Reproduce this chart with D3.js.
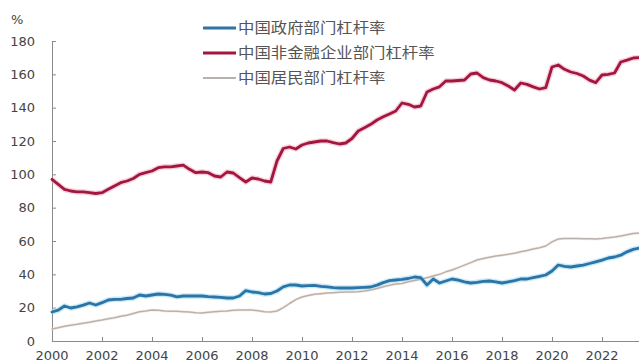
<!DOCTYPE html>
<html>
<head>
<meta charset="utf-8">
<script src="https://cdn.jsdelivr.net/npm/d3@7/dist/d3.min.js"></script>
<style>
  html, body { margin: 0; padding: 0; background: #fff; }
  svg { display: block; font-family: "DejaVu Sans", "Liberation Sans", Arial, sans-serif; }
</style>
</head>
<body>
<svg id="chart" width="639" height="361"></svg>
<script>
// Quarterly leverage ratios (%), 2000Q1 onwards
const startYear = 2000;
const seriesNames = ["中国政府部门杠杆率", "中国非金融企业部门杠杆率", "中国居民部门杠杆率"];

const government = [
  17.4, 18.5, 21.0, 19.8,  20.5, 21.5, 22.8, 21.6,  23.0, 24.6, 25.0, 25.0,
  25.5, 25.8, 27.6, 27.0,  27.6, 28.2, 28.0, 27.5,  26.5, 27.0, 27.0, 27.0,
  27.0, 26.6, 26.4, 26.2,  25.8, 25.8, 27.0, 30.2,  29.4, 29.0, 28.2, 28.5,
  30.0, 32.5, 33.6, 33.6,  33.0, 33.2, 33.4, 32.8,  32.5, 32.0, 31.8, 31.8,
  31.8, 32.0, 32.2, 32.4,  33.5, 35.0, 36.2, 36.6,  37.0, 37.5, 38.4, 38.0,
  33.6, 37.2, 34.8, 36.0,  37.2, 36.5, 35.5, 34.8,  35.2, 35.8, 36.0, 35.5,
  34.8, 35.5, 36.2, 37.2,  37.2, 38.0, 38.8, 39.6,  42.0, 45.6, 44.8, 44.4,
  45.0, 45.5, 46.5, 47.5,  48.5, 49.8, 50.4, 51.5,  53.5, 55.0, 55.8
];

const nonFinancial = [
  97.0, 94.0, 91.0, 90.0,  89.5, 89.5, 89.0, 88.5,  89.0, 91.0, 93.0, 95.0,
  96.0, 97.5, 100.0, 101.0, 102.0, 104.0, 104.5, 104.5, 105.0, 105.5, 103.0, 101.0,
  101.4, 101.0, 99.0, 98.4, 101.4, 100.8, 98.0, 95.4, 97.8, 97.2, 96.0, 95.4,
  108.0, 115.5, 116.4, 115.2, 117.6, 118.8, 119.4, 120.0, 120.0, 119.0, 118.2, 118.8,
  121.5, 126.0, 128.0, 130.0, 132.6, 134.5, 136.2, 138.0, 142.8, 142.0, 140.4, 141.0,
  149.4, 151.2, 152.5, 156.0, 156.0, 156.3, 156.6, 160.2, 160.8, 158.0, 156.6, 156.0,
  155.0, 153.0, 150.6, 154.8, 154.0, 152.5, 151.2, 152.0, 164.4, 165.6, 163.0, 161.4,
  160.5, 159.0, 156.5, 155.0, 159.6, 160.0, 160.8, 167.4, 168.5, 169.8, 170.0
];

const household = [
  7.2, 8.0, 8.8, 9.5,     10.0, 10.7, 11.3, 12.0,  12.6, 13.3, 14.0, 14.8,
  15.5, 16.5, 17.5, 18.0,  18.6, 18.4, 18.0, 17.8,  17.8, 17.6, 17.4, 17.0,
  16.8, 17.2, 17.5, 17.8,  18.0, 18.4, 18.6, 18.6,  18.6, 18.2, 17.6, 17.4,
  18.0, 20.0, 22.5, 24.8,  26.4, 27.3, 28.0, 28.4,  28.8, 29.0, 29.2, 29.4,
  29.4, 29.6, 30.0, 30.6,  31.5, 32.5, 33.4, 34.2,  34.5, 35.5, 36.3, 37.0,
  38.0, 39.0, 40.0, 41.5,  42.6, 44.0, 45.5, 47.0,  48.6, 49.5, 50.3, 51.0,
  51.5, 52.0, 52.6, 53.5,  54.3, 55.2, 56.0, 57.0,  59.5, 61.2, 61.5, 61.5,
  61.5, 61.4, 61.3, 61.2,  61.5, 62.0, 62.4, 63.0,  63.8, 64.5, 64.8
];

const yTicks = [0, 20, 40, 60, 80, 100, 120, 140, 160, 180];
const xTicks = [2000, 2002, 2004, 2006, 2008, 2010, 2012, 2014, 2016, 2018, 2020, 2022];

const svg = d3.select("#chart");
const plotLeft = 52, plotRight = 639.5, plotTop = 41, plotBottom = 341;

const x = d3.scaleLinear().domain([2000, 2023.5]).range([plotLeft, plotRight]);
const y = d3.scaleLinear().domain([0, 180]).range([plotBottom, plotTop]);

const toPoints = arr => arr.map((v, i) => ({ t: startYear + i / 4, v }));

const series = [
  { name: seriesNames[0], pts: toPoints(government),   color: "#2b74a8", halo: "#a9dcf2", width: 2.8, haloW: 5.5 },
  { name: seriesNames[1], pts: toPoints(nonFinancial), color: "#a3173f", halo: "#f2b4c8", width: 2.8, haloW: 5.5 },
  { name: seriesNames[2], pts: toPoints(household),    color: "#b9b1ad", halo: "#f3e4d6", width: 1.5, haloW: 3 }
];

const labelColor = "#444";

// Axes
const axisColor = "#8a8a8a";
const yAxis = svg.append("g").attr("transform", `translate(${plotLeft},0)`)
  .call(d3.axisRight(y).tickValues(yTicks).tickSize(4).tickFormat(""));
yAxis.select(".domain").attr("stroke", axisColor).attr("d", `M0.5,${plotTop}V${plotBottom}`);
yAxis.selectAll(".tick line").attr("stroke", axisColor);

svg.append("g").selectAll("text").data(yTicks).join("text")
  .attr("x", 35).attr("y", d => y(d)).attr("dy", "0.36em")
  .attr("text-anchor", "end").attr("font-size", 13).attr("fill", labelColor)
  .text(d => d);

const xAxis = svg.append("g").attr("transform", `translate(0,${plotBottom})`)
  .call(d3.axisTop(x).tickValues(xTicks).tickSize(4).tickFormat(""));
xAxis.select(".domain").attr("stroke", axisColor).attr("d", `M${plotLeft},0.5H${plotRight}`);
xAxis.selectAll(".tick line").attr("stroke", axisColor);

svg.append("g").selectAll("text").data(xTicks).join("text")
  .attr("x", d => x(d)).attr("y", 359.5)
  .attr("text-anchor", "middle").attr("font-size", 13).attr("fill", labelColor)
  .text(d => d);

svg.append("text").attr("x", 11).attr("y", 24)
  .attr("font-size", 13).attr("fill", labelColor).text("%");

// Lines
const line = d3.line().x(d => x(d.t)).y(d => y(d.v));
const plot = svg.append("g");
series.slice().reverse().forEach(s => {
  plot.append("path").attr("d", line(s.pts)).attr("fill", "none")
    .attr("stroke", s.halo).attr("stroke-width", s.haloW).attr("stroke-opacity", 0.6)
    .attr("stroke-linejoin", "round");
});
series.slice().reverse().forEach(s => {
  plot.append("path").attr("d", line(s.pts)).attr("fill", "none")
    .attr("stroke", s.color).attr("stroke-width", s.width)
    .attr("stroke-linejoin", "round").attr("stroke-linecap", "round");
});

// Legend
const legend = svg.append("g");
series.forEach((s, i) => {
  const ly = 28 + i * 25;
  legend.append("line").attr("x1", 203).attr("x2", 236).attr("y1", ly).attr("y2", ly)
    .attr("stroke", s.color).attr("stroke-width", s.width + 0.3);
  legend.append("text")
    .attr("transform", `translate(238,${ly}) scale(1.13,1)`)
    .attr("dy", "0.36em")
    .attr("font-size", 14.5).attr("fill", "#555")
    .attr("font-family", "'Noto Sans CJK SC', sans-serif")
    .text(s.name);
});
</script>
</body>
</html>
